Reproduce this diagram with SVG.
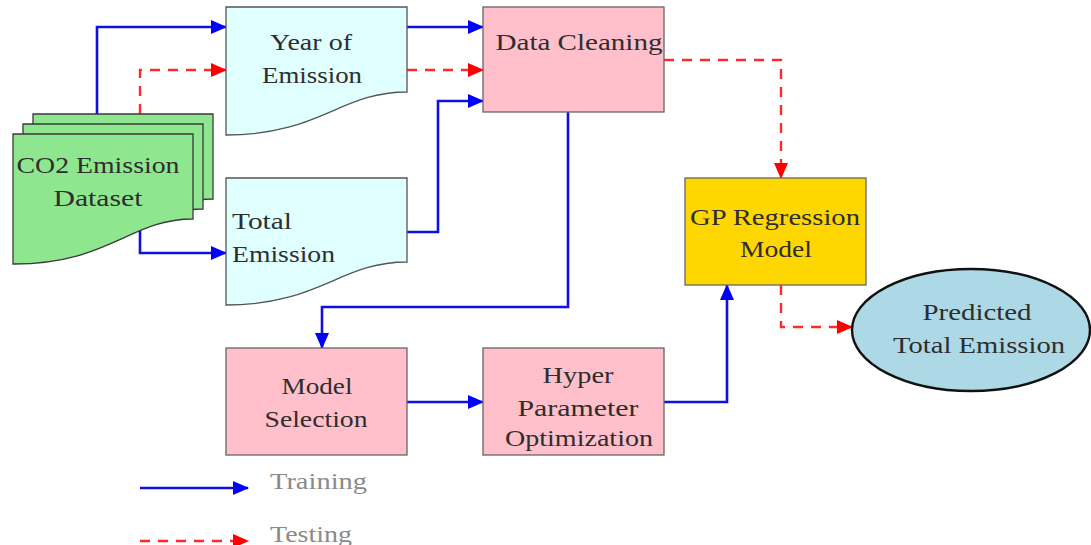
<svg xmlns="http://www.w3.org/2000/svg" width="1091" height="545" viewBox="0 0 1091 545">
  <style>
    .lbl { font-family: "Liberation Serif", "DejaVu Serif", serif; font-size: 24px; fill: #2e2e2e; text-anchor: middle; }
    .lft { text-anchor: start; }
    .leg { font-family: "Liberation Serif", "DejaVu Serif", serif; font-size: 24px; fill: #8a8a8a; }
    .doc { fill: #E0FFFF; stroke: #555555; stroke-width: 1.3; }
    .stack { fill: #8EE68E; stroke: #3a3a3a; stroke-width: 1.3; }
    .proc { fill: #FFC0CB; stroke: #666666; stroke-width: 1.3; }
    .gold { fill: #FFD700; stroke: #666666; stroke-width: 1.3; }
    .train { fill: none; stroke: #1010E0; stroke-width: 2.6; marker-end: url(#blueHead); }
    .test { fill: none; stroke: #FF2A2A; stroke-width: 2.4; stroke-dasharray: 10 8; marker-end: url(#redHead); }
  </style>
  <defs>
    <marker id="blueHead" markerUnits="userSpaceOnUse" markerWidth="16" markerHeight="14" refX="15" refY="7" orient="auto">
      <path d="M0,0 L16,7 L0,14 z" fill="#0000FF"/>
    </marker>
    <marker id="redHead" markerUnits="userSpaceOnUse" markerWidth="16" markerHeight="14" refX="15" refY="7" orient="auto">
      <path d="M0,0 L16,7 L0,14 z" fill="#FF0000"/>
    </marker>
  </defs>
  <rect width="1091" height="545" fill="#ffffff"/>

  <!-- connectors -->
  <g id="connectors">
    <path class="train" d="M97,114 V27 H226"/>
    <path class="test" d="M140,114 V70 H226"/>
    <path class="train" d="M140,219 V253 H226"/>
    <path class="train" d="M407,27 H483"/>
    <path class="test" d="M407,70 H483"/>
    <path class="train" d="M407,232 H438 V101 H483"/>
    <path class="train" d="M568,112 V307 H322 V348"/>
    <path class="test" d="M664,60 H781 V178"/>
    <path class="train" d="M407,402 H483"/>
    <path class="train" d="M664,402 H727 V285"/>
    <path class="test" d="M781,285 V327 H852"/>
  </g>

  <!-- dataset: stacked documents -->
  <g id="dataset">
    <path class="stack" d="M33,114 H213 V199 C160,199 130,250 33,250 Z"/>
    <path class="stack" d="M23,124 H203 V209 C150,209 120,258 23,258 Z"/>
    <path class="stack" d="M13,134 H193 V219 C130,219 110,264 13,264 Z"/>
    <text class="lbl" x="98" y="173" textLength="163" lengthAdjust="spacingAndGlyphs">CO2 Emission</text>
    <text class="lbl" x="98" y="206" textLength="89" lengthAdjust="spacingAndGlyphs">Dataset</text>
  </g>

  <g id="year">
    <path class="doc" d="M226,7 H407 V92 C340,92 320,135 226,135 Z"/>
    <text class="lbl" x="311" y="50" textLength="82" lengthAdjust="spacingAndGlyphs">Year of</text>
    <text class="lbl" x="312" y="83" textLength="100" lengthAdjust="spacingAndGlyphs">Emission</text>
  </g>

  <g id="total">
    <path class="doc" d="M226,178 H407 V262 C340,262 320,305 226,305 Z"/>
    <text class="lbl lft" x="232" y="229" textLength="60" lengthAdjust="spacingAndGlyphs">Total</text>
    <text class="lbl lft" x="232" y="262" textLength="103" lengthAdjust="spacingAndGlyphs">Emission</text>
  </g>

  <g id="cleaning">
    <rect class="proc" x="483" y="7" width="181" height="105"/>
    <text class="lbl" x="579" y="50" textLength="167" lengthAdjust="spacingAndGlyphs">Data Cleaning</text>
  </g>

  <g id="gp">
    <rect class="gold" x="685" y="178" width="181" height="107"/>
    <text class="lbl" x="775" y="225" textLength="170" lengthAdjust="spacingAndGlyphs">GP Regression</text>
    <text class="lbl" x="776" y="257" textLength="72" lengthAdjust="spacingAndGlyphs">Model</text>
  </g>

  <g id="predicted">
    <ellipse cx="971" cy="330" rx="119" ry="61" fill="#ADD8E6" stroke="#111111" stroke-width="2.4"/>
    <text class="lbl" x="977" y="320" textLength="109" lengthAdjust="spacingAndGlyphs">Predicted</text>
    <text class="lbl" x="979" y="353" textLength="172" lengthAdjust="spacingAndGlyphs">Total Emission</text>
  </g>

  <g id="selection">
    <rect class="proc" x="226" y="348" width="181" height="107"/>
    <text class="lbl" x="317" y="394" textLength="71" lengthAdjust="spacingAndGlyphs">Model</text>
    <text class="lbl" x="316" y="427" textLength="103" lengthAdjust="spacingAndGlyphs">Selection</text>
  </g>

  <g id="hyper">
    <rect class="proc" x="483" y="348" width="181" height="107"/>
    <text class="lbl" x="578" y="383" textLength="71" lengthAdjust="spacingAndGlyphs">Hyper</text>
    <text class="lbl" x="578" y="416" textLength="121" lengthAdjust="spacingAndGlyphs">Parameter</text>
    <text class="lbl" x="579" y="446" textLength="148" lengthAdjust="spacingAndGlyphs">Optimization</text>
  </g>

  <!-- legend -->
  <g id="legend">
    <path class="train" d="M140,488 H248"/>
    <text class="leg" x="270" y="489" textLength="97" lengthAdjust="spacingAndGlyphs">Training</text>
    <path class="test" d="M140,541 H248"/>
    <text class="leg" x="270" y="542" textLength="82" lengthAdjust="spacingAndGlyphs">Testing</text>
  </g>
</svg>
